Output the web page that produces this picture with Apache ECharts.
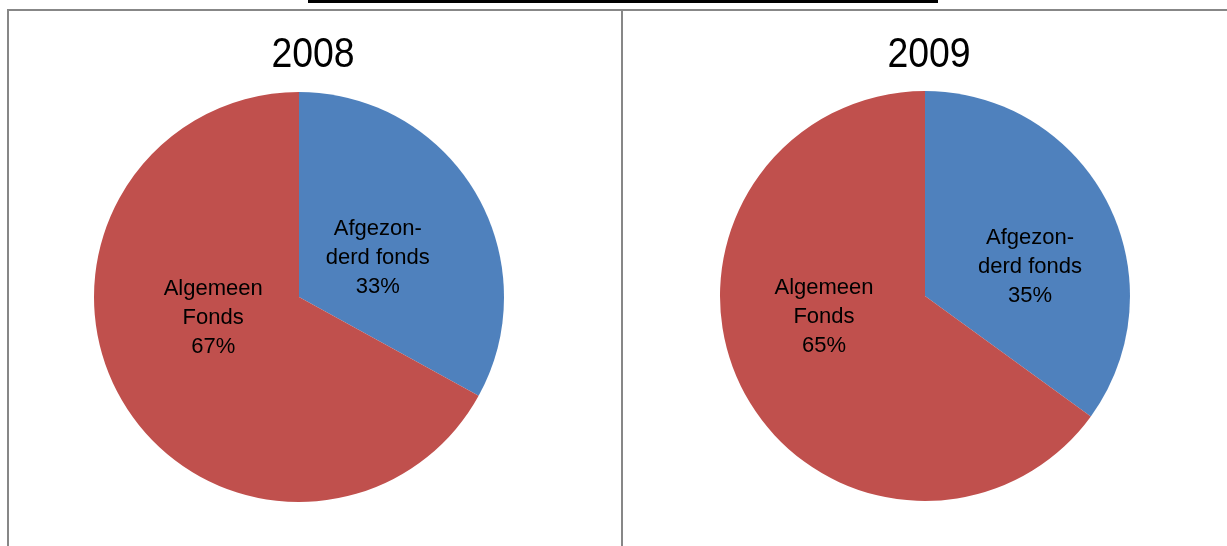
<!DOCTYPE html>
<html>
<head>
<meta charset="utf-8">
<script src="https://cdn.jsdelivr.net/npm/echarts@6/dist/echarts.min.js"></script>
<style>
  html, body { margin: 0; padding: 0; background: #ffffff; }
  #chart { width: 1227px; height: 546px; }
</style>
</head>
<body>
<div id="chart"></div>
<script>
// Fund split per year
const years = ['2008', '2009'];
const categories = ['Afgezon-\nderd fonds', 'Algemeen\nFonds'];
const values2008 = [33, 67];
const values2009 = [35, 65];
const sliceColors = ['#4F81BD', '#C0504D'];

// Label nudges per pie / slice (pixels from the default inside position)
const labelNudge = [
  [[-12, 15], [5, -33]],
  [[11, 19], [-7, -27]]
];

const FONT = '"Liberation Sans", Arial, sans-serif';
const chart = echarts.init(document.getElementById('chart'), null, { renderer: 'canvas' });

function pieSeries(idx, values, center) {
  return {
    type: 'pie',
    center: center,
    radius: 205,
    startAngle: 90,
    clockwise: true,
    silent: true,
    animation: false,
    label: {
      show: true,
      position: 'inside',
      fontFamily: FONT,
      fontSize: 22,
      lineHeight: 29,
      color: '#000000',
      align: 'center',
      formatter: p => p.name + '\n' + p.value + '%'
    },
    labelLine: { show: false },
    labelLayout: p => ({ dx: labelNudge[idx][p.dataIndex][0], dy: labelNudge[idx][p.dataIndex][1] }),
    itemStyle: { borderWidth: 0 },
    emphasis: { disabled: true },
    data: categories.map((c, i) => ({ name: c, value: values[i], itemStyle: { color: sliceColors[i] } }))
  };
}

// Year headings, slightly condensed
function yearTitle(text, cx) {
  return {
    type: 'text',
    x: cx, y: 55,
    scaleX: 0.87,
    style: {
      text: text,
      fontFamily: FONT,
      fontSize: 43,
      fill: '#000',
      align: 'center',
      verticalAlign: 'middle'
    }
  };
}

chart.setOption({
  backgroundColor: '#ffffff',
  animation: false,
  graphic: [
    // heading bar
    { type: 'rect', shape: { x: 308, y: 0, width: 630, height: 3 }, style: { fill: '#000' } },
    // panel frame
    { type: 'rect', shape: { x: 7, y: 9, width: 1220, height: 2 }, style: { fill: '#878787' } },
    { type: 'rect', shape: { x: 7, y: 9, width: 2, height: 537 }, style: { fill: '#878787' } },
    { type: 'rect', shape: { x: 621, y: 9, width: 2, height: 537 }, style: { fill: '#878787' } },
    yearTitle(years[0], 313),
    yearTitle(years[1], 929)
  ],
  series: [
    pieSeries(0, values2008, [299, 297]),
    pieSeries(1, values2009, [925, 296])
  ]
});
</script>
</body>
</html>
